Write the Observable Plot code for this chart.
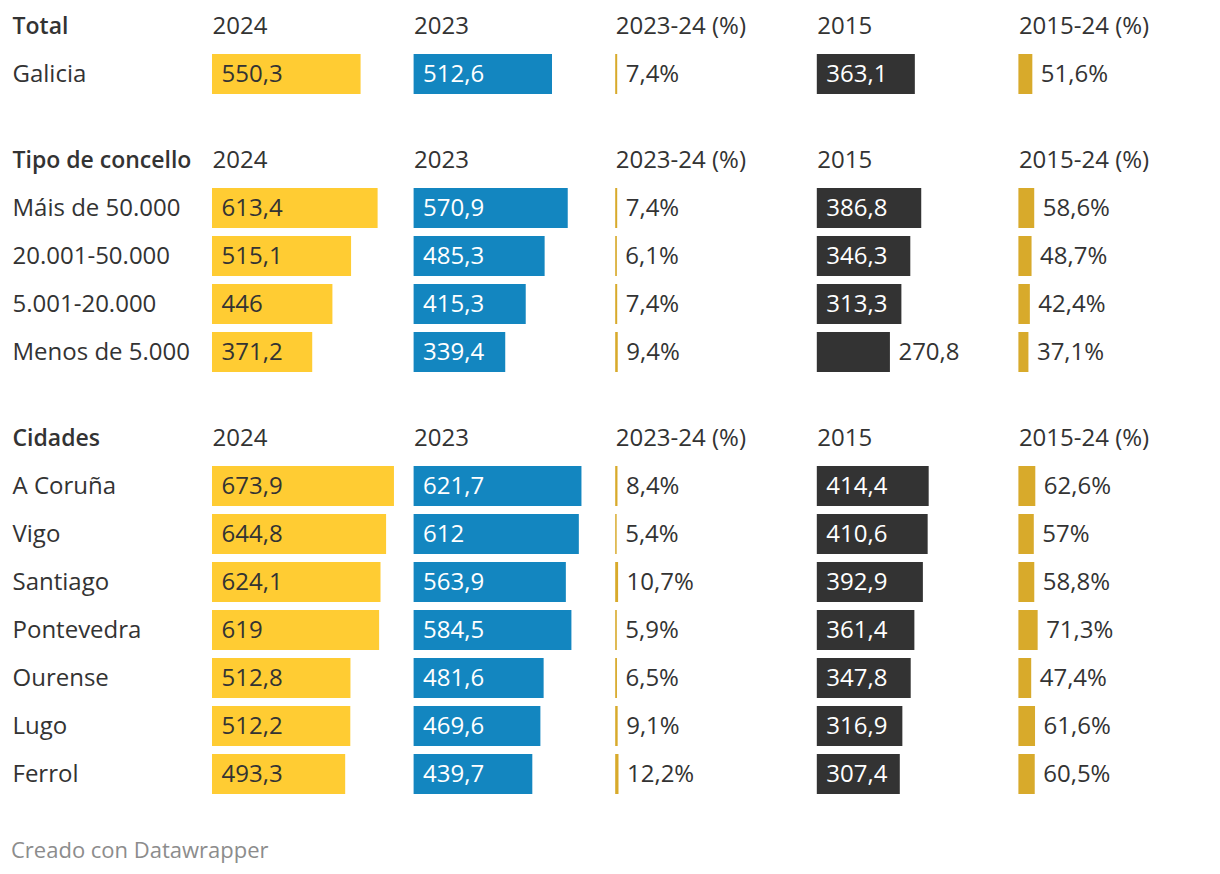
<!DOCTYPE html>
<html>
<head>
<meta charset="utf-8">
<script src="https://cdn.jsdelivr.net/npm/d3@7"></script>
<script src="https://cdn.jsdelivr.net/npm/@observablehq/plot@0.6"></script>
<style>
  html, body { margin: 0; padding: 0; background: #ffffff; }
  body { font-family: "Open Sans", sans-serif; color: #333333; }
  #chart { position: relative; width: 1220px; height: 874px; }
  #chart svg { display: block; position: absolute; left: 0; }
  #footer { position: absolute; left: 11px; top: 834px; font-size: 22px; color: #8c8c8c; font-family: "Open Sans", sans-serif; }
</style>
</head>
<body>
<div id="chart"></div>
<script>
// ---- Data ----
const columns = ["2024", "2023", "2023-24 (%)", "2015", "2015-24 (%)"];
const groupTitles = ["Total", "Tipo de concello", "Cidades"];
const rowLabels = [
  "Galicia",
  "Máis de 50.000", "20.001-50.000", "5.001-20.000", "Menos de 5.000",
  "A Coruña", "Vigo", "Santiago", "Pontevedra", "Ourense", "Lugo", "Ferrol"
];
const rowGroup = [0, 1, 1, 1, 1, 2, 2, 2, 2, 2, 2, 2];
const values2024 = [550.3, 613.4, 515.1, 446, 371.2, 673.9, 644.8, 624.1, 619, 512.8, 512.2, 493.3];
const values2023 = [512.6, 570.9, 485.3, 415.3, 339.4, 621.7, 612, 563.9, 584.5, 481.6, 469.6, 439.7];
const change2324 = [7.4, 7.4, 6.1, 7.4, 9.4, 8.4, 5.4, 10.7, 5.9, 6.5, 9.1, 12.2];
const values2015 = [363.1, 386.8, 346.3, 313.3, 270.8, 414.4, 410.6, 392.9, 361.4, 347.8, 316.9, 307.4];
const change1524 = [51.6, 58.6, 48.7, 42.4, 37.1, 62.6, 57, 58.8, 71.3, 47.4, 61.6, 60.5];
const footerText = "Creado con Datawrapper";

// ---- Styles ----
const barColors = {"2024": "#ffcc33", "2023": "#1386c0", "2023-24 (%)": "#d8aa2b", "2015": "#333333", "2015-24 (%)": "#d8aa2b"};
const labelColors = {"2024": "#333333", "2023": "#ffffff", "2015": "#ffffff"};
const isPct = c => c.endsWith("(%)");
const fmt = v => String(v).replace(".", ",");
const xMax = 746.7;          // shared value domain across every column
const minInside = 290;       // values below this get their label outside the bar
const FS = 24;
const FS_TITLE = 23;

const seriesByCol = {
  "2024": values2024, "2023": values2023, "2023-24 (%)": change2324,
  "2015": values2015, "2015-24 (%)": change1524
};

const cells = [];
rowLabels.forEach((label, i) => {
  columns.forEach(col => {
    const v = seriesByCol[col][i];
    const pct = isPct(col);
    cells.push({
      group: rowGroup[i], label, col, value: v,
      text: pct ? fmt(v) + "%" : fmt(v),
      inside: !pct && v >= minInside
    });
  });
});

const chart = document.getElementById("chart");
const groupTops = [2, 136, 414];
const HEADER = "__header";

groupTitles.forEach((title, g) => {
  const labels = rowLabels.filter((_, i) => rowGroup[i] === g);
  const data = cells.filter(d => d.group === g);
  const height = (labels.length + 1) * 48;
  const plot = Plot.plot({
    width: 1220,
    height,
    marginLeft: 212,
    marginRight: 0,
    marginTop: 0,
    marginBottom: 0,
    style: {fontFamily: "Open Sans, sans-serif", fontSize: FS + "px", color: "#333333", background: "transparent"},
    fx: {domain: columns, padding: 0, round: false, axis: null},
    x: {domain: [0, xMax], axis: null},
    y: {domain: [HEADER, ...labels], padding: 0, round: false, axis: null},
    marks: [
      Plot.barX(data, {fx: "col", y: "label", x: "value", fill: d => barColors[d.col], insetTop: 4, insetBottom: 4}),
      Plot.text(data.filter(d => d.inside), {
        fx: "col", y: "label", x: 0, text: "text", textAnchor: "start", dx: 9,
        fill: d => labelColors[d.col], fontSize: FS
      }),
      Plot.text(data.filter(d => !d.inside), {
        fx: "col", y: "label", x: "value", text: "text", textAnchor: "start", dx: 8,
        fill: "#333333", fontSize: FS
      }),
      Plot.text(columns, {
        fx: d => d, y: () => HEADER, x: () => 0, text: d => d, textAnchor: "start",
        fill: "#333333", fontSize: FS
      }),
      Plot.text(labels, {
        fx: () => columns[0], y: d => d, x: () => 0, text: d => d, textAnchor: "start", dx: -200,
        fill: "#333333", fontSize: FS
      }),
      Plot.text([title], {
        fx: () => columns[0], y: () => HEADER, x: () => 0, text: d => d, textAnchor: "start", dx: -200,
        fill: "#333333", fontSize: FS_TITLE, fontWeight: 600
      })
    ]
  });
  plot.style.top = groupTops[g] + "px";
  plot.style.overflow = "visible";
  chart.appendChild(plot);
});

const footer = document.createElement("div");
footer.id = "footer";
footer.textContent = footerText;
chart.appendChild(footer);
</script>
</body>
</html>
